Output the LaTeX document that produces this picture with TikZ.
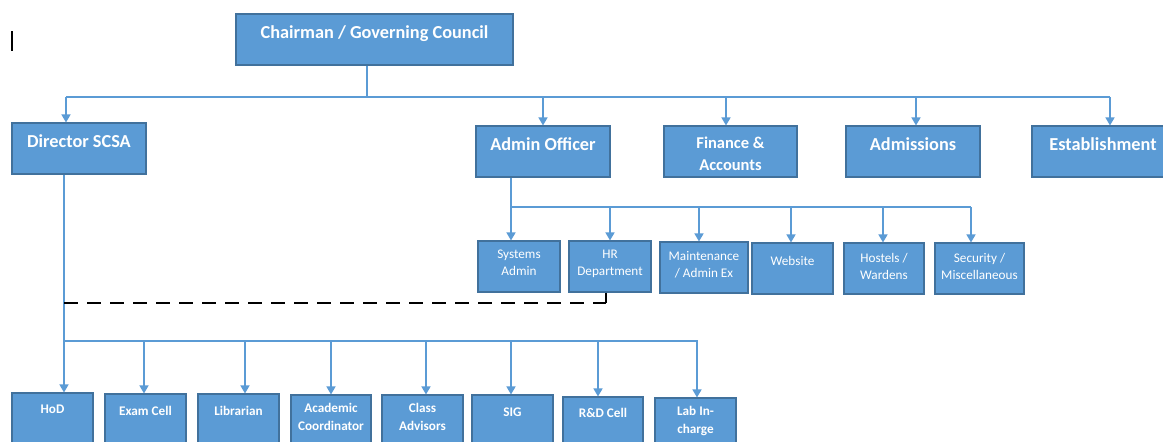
\documentclass[tikz,border=0pt]{standalone}
\usepackage{fontspec}
\setmainfont{Carlito}
\usetikzlibrary{arrows.meta}

\definecolor{boxfill}{HTML}{5B9BD5}
\definecolor{boxedge}{HTML}{41719C}
\definecolor{linkcol}{HTML}{5B9BD5}

% font sizes (1pt = 1 unit of the grid)
\newcommand\fbig{\fontsize{18.3}{22}\selectfont\bfseries}
\newcommand\fmid{\fontsize{16.5}{22}\selectfont\bfseries}
\newcommand\fsml{\fontsize{13.2}{17}\selectfont}
\newcommand\fbot{\fontsize{13.2}{18}\selectfont\bfseries}

% centred lines, baseline of the first line is the reference point
\newcommand\twoln[1]{\begin{tabular}[t]{@{}c@{}}#1\end{tabular}}

% box: name, left, top, right, bottom, text baseline, font, text
\newcommand\orgbox[8]{%
  \pgfmathsetmacro\bxw{#4-#2}%
  \pgfmathsetmacro\bxh{#5-#3}%
  \node[unitbox, minimum width=\bxw pt, minimum height=\bxh pt] (#1)
    at ({(#2+#4)/2},{(#3+#5)/2}) {};
  \node[unittext, font=#7] (#1-t) at ({(#2+#4)/2},#6) {\twoln{#8}};
}

\tikzset{
  unitbox/.style={draw=boxedge, fill=boxfill, line width=1.1pt, inner sep=0pt},
  unittext/.style={anchor=base, text=white, inner sep=0pt},
  conn/.style={draw=linkcol, line width=1.5pt},
  arr/.style={conn, -{Triangle[width=9pt,length=8pt]}},
  dashln/.style={draw=black, line width=2.6pt, dash pattern=on 14pt off 9pt},
}

\begin{document}
\begin{tikzpicture}[x=1pt, y=-1pt]
\useasboundingbox (0,0) rectangle (1163,442);
\clip (0,0) rectangle (1163,442);
\fill[white] (0,0) rectangle (1163,442);

% text cursor
\draw[black, line width=1.2pt] (12,31) -- (12,51);

% top level
\orgbox{chair}{236}{14}{513}{65}{38}{\fbig}{Chairman / Governing Council}

% second level
\orgbox{dir}{12}{123}{146}{174}{147}{\fbig}{Director SCSA}
\orgbox{adm}{476}{126}{610}{177}{150}{\fbig}{Admin Officer}
\orgbox{fin}{664}{126}{797}{177}{148}{\fmid}{Finance \&\\Accounts}
\orgbox{admis}{846}{126}{980}{177}{150}{\fbig}{Admissions}
\orgbox{est}{1032}{126}{1174}{177}{150}{\fbig}{Establishment}

% admin units
\orgbox{sys}{478}{241}{560}{292}{258}{\fsml}{Systems\\Admin}
\orgbox{hr}{569}{241}{651}{292}{258}{\fsml}{HR\\Department}
\orgbox{mnt}{660}{242}{748}{293}{260}{\fsml}{Maintenance\\/ Admin Ex}
\orgbox{web}{752}{243}{833}{294}{265}{\fsml}{Website}
\orgbox{hos}{844}{243}{924}{294}{262}{\fsml}{Hostels /\\Wardens}
\orgbox{sec}{935}{243}{1024}{294}{262}{\fsml}{Security /\\Miscellaneous}

% academic units
\orgbox{hod}{12}{393}{93}{444}{413}{\fbot}{HoD}
\orgbox{exam}{105}{394}{186}{445}{415}{\fbot}{Exam Cell}
\orgbox{lib}{198}{394}{279}{445}{415}{\fbot}{Librarian}
\orgbox{acad}{291}{395}{371}{446}{412}{\fbot}{Academic\\Coordinator}
\orgbox{cls}{382}{395}{463}{446}{412}{\fbot}{Class\\Advisors}
\orgbox{sig}{472}{395}{553}{446}{416}{\fbot}{SIG}
\orgbox{rnd}{563}{397}{643}{448}{417}{\fbot}{R\&D Cell}
\orgbox{lab}{655}{398}{736}{449}{415}{\fbot}{Lab In-\\charge}

% bus levels
\coordinate (busTop) at (0,97);
\coordinate (busMid) at (0,207);
\coordinate (dashY)  at (0,303);
\coordinate (busBot) at (0,341);

% chairman to second level
\draw[conn] ([xshift=-7.5pt]chair.south) -- ([xshift=-7.5pt]chair.south |- busTop);
\draw[conn] ([xshift=-13pt]dir.north |- busTop) -- ([xshift=7pt]est.north |- busTop);
\foreach \n/\s in {dir/-13, adm/0, fin/-4.5, admis/3, est/7}
  \draw[arr] ([xshift=\s pt]\n.north |- busTop) -- ([xshift=\s pt]\n.north);

% admin officer to its units
\draw[conn] ([xshift=-32pt]adm.south) -- ([xshift=-32pt]adm.south |- busMid)
            -- ([xshift=-8.5pt]sec.north |- busMid);
\foreach \n/\s in {sys/-8, hr/0, mnt/-5, web/-1.5, hos/-1, sec/-8.5}
  \draw[arr] ([xshift=\s pt]\n.north |- busMid) -- ([xshift=\s pt]\n.north);

% director to academic units
\draw[arr] ([xshift=-15pt]dir.south) -- ([xshift=11.5pt]hod.north);
\draw[conn] ([xshift=-15pt]dir.south |- busBot) -- ([xshift=2pt]lab.north |- busBot);
\foreach \n/\s in {exam/-1.5, lib/6.5, acad/0, cls/3.5, sig/-1.5, rnd/-5, lab/1.5}
  \draw[arr] ([xshift=\s pt]\n.north |- busBot) -- ([xshift=\s pt]\n.north);

% HR link to the director line
\draw[black, line width=2pt] ([xshift=-4pt]hr.south) -- ([xshift=-4pt]hr.south |- dashY);
\draw[dashln] ([xshift=-15pt]dir.south |- dashY) -- ([xshift=-4pt]hr.south |- dashY);
\end{tikzpicture}
\end{document}
